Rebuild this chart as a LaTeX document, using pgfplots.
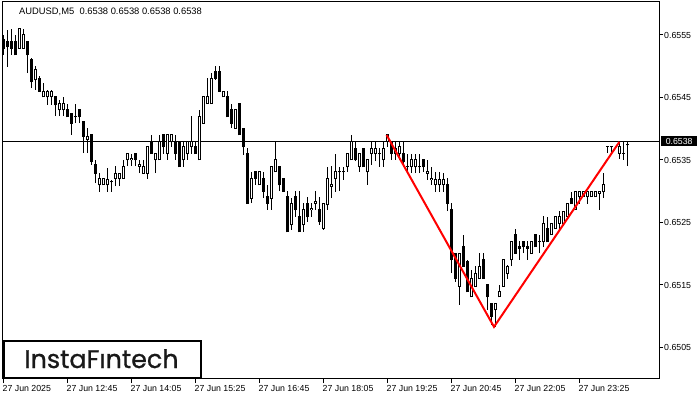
\documentclass[border=0pt]{standalone}
\usepackage{pgfplots}
\usepackage{pgfplotstable}
\pgfplotsset{compat=1.18}
\usepackage{fontspec}
\setmainfont{Liberation Sans}
\newfontfamily\logofont{Poppins}[FakeBold=0.9]

% AUDUSD M5 candles, bullish (hollow) ones
\pgfplotstableread{
i o h l c
4 0.65529 0.65561 0.65529 0.65560
5 0.65529 0.65560 0.65529 0.65550
8 0.65478 0.65500 0.65462 0.65494
10 0.65451 0.65473 0.65451 0.65460
11 0.65451 0.65462 0.65438 0.65460
12 0.65451 0.65462 0.65438 0.65460
14 0.65430 0.65446 0.65420 0.65440
15 0.65430 0.65451 0.65420 0.65440
21 0.65382 0.65401 0.65361 0.65387
24 0.65310 0.65329 0.65299 0.65321
25 0.65310 0.65321 0.65310 0.65321
26 0.65310 0.65337 0.65299 0.65318
27 0.65315 0.65318 0.65299 0.65316
28 0.65320 0.65340 0.65308 0.65329
29 0.65320 0.65329 0.65308 0.65329
30 0.65320 0.65350 0.65320 0.65340
31 0.65350 0.65360 0.65340 0.65360
32 0.65350 0.65360 0.65340 0.65352
34 0.65340 0.65350 0.65329 0.65342
35 0.65329 0.65350 0.65329 0.65340
36 0.65329 0.65371 0.65320 0.65371
38 0.65350 0.65360 0.65329 0.65360
39 0.65350 0.65390 0.65350 0.65379
41 0.65360 0.65390 0.65350 0.65390
42 0.65379 0.65390 0.65371 0.65390
45 0.65350 0.65379 0.65339 0.65371
46 0.65360 0.65379 0.65350 0.65379
47 0.65371 0.65420 0.65360 0.65379
49 0.65350 0.65430 0.65350 0.65420
50 0.65409 0.65451 0.65409 0.65451
51 0.65440 0.65481 0.65440 0.65451
52 0.65440 0.65489 0.65440 0.65481
55 0.65451 0.65460 0.65451 0.65460
58 0.65401 0.65430 0.65401 0.65430
62 0.65289 0.65331 0.65281 0.65320
64 0.65310 0.65331 0.65310 0.65331
67 0.65289 0.65339 0.65270 0.65339
68 0.65331 0.65380 0.65331 0.65350
72 0.65246 0.65289 0.65238 0.65281
75 0.65246 0.65281 0.65235 0.65270
77 0.65270 0.65281 0.65259 0.65272
78 0.65281 0.65300 0.65270 0.65283
80 0.65241 0.65281 0.65238 0.65281
81 0.65278 0.65339 0.65270 0.65321
82 0.65308 0.65340 0.65289 0.65310
83 0.65320 0.65360 0.65299 0.65331
84 0.65331 0.65339 0.65300 0.65332
85 0.65331 0.65339 0.65318 0.65332
86 0.65339 0.65360 0.65331 0.65360
87 0.65350 0.65390 0.65350 0.65380
89 0.65339 0.65360 0.65331 0.65360
91 0.65331 0.65350 0.65310 0.65350
92 0.65360 0.65380 0.65342 0.65369
93 0.65360 0.65380 0.65348 0.65369
94 0.65360 0.65369 0.65339 0.65361
95 0.65350 0.65380 0.65339 0.65369
96 0.65380 0.65390 0.65371 0.65390
98 0.65360 0.65380 0.65350 0.65369
99 0.65360 0.65380 0.65350 0.65371
101 0.65339 0.65360 0.65329 0.65340
102 0.65339 0.65360 0.65329 0.65350
103 0.65339 0.65360 0.65329 0.65350
104 0.65339 0.65360 0.65329 0.65340
106 0.65329 0.65350 0.65318 0.65331
107 0.65318 0.65339 0.65310 0.65320
108 0.65310 0.65331 0.65299 0.65318
109 0.65310 0.65331 0.65299 0.65318
110 0.65310 0.65329 0.65299 0.65318
114 0.65148 0.65201 0.65118 0.65201
117 0.65131 0.65174 0.65131 0.65160
118 0.65148 0.65180 0.65148 0.65169
119 0.65160 0.65201 0.65160 0.65180
123 0.65110 0.65120 0.65083 0.65120
124 0.65131 0.65150 0.65131 0.65139
125 0.65148 0.65190 0.65148 0.65190
126 0.65169 0.65182 0.65160 0.65180
127 0.65190 0.65220 0.65180 0.65219
132 0.65201 0.65220 0.65201 0.65220
134 0.65219 0.65230 0.65201 0.65220
135 0.65219 0.65260 0.65211 0.65249
137 0.65230 0.65249 0.65230 0.65249
138 0.65240 0.65259 0.65240 0.65259
139 0.65249 0.65268 0.65240 0.65259
140 0.65249 0.65268 0.65249 0.65268
141 0.65259 0.65281 0.65259 0.65280
143 0.65270 0.65299 0.65270 0.65299
144 0.65291 0.65299 0.65280 0.65299
145 0.65291 0.65299 0.65291 0.65299
146 0.65291 0.65299 0.65280 0.65299
147 0.65291 0.65299 0.65291 0.65299
148 0.65291 0.65299 0.65291 0.65299
149 0.65297 0.65299 0.65270 0.65299
150 0.65299 0.65329 0.65289 0.65310
151 0.65372 0.65372 0.65361 0.65372
152 0.65371 0.65372 0.65361 0.65371
154 0.65361 0.65379 0.65352 0.65371
155 0.65361 0.65379 0.65350 0.65361
156 0.65374 0.65379 0.65340 0.65374
}\bull

% bearish (filled) candles
\pgfplotstableread{
i o h l c
0 0.65542 0.65550 0.65518 0.65529
1 0.65540 0.65558 0.65499 0.65531
2 0.65540 0.65560 0.65518 0.65529
3 0.65540 0.65550 0.65518 0.65518
6 0.65540 0.65540 0.65489 0.65518
7 0.65510 0.65513 0.65465 0.65475
9 0.65481 0.65484 0.65459 0.65460
13 0.65451 0.65451 0.65420 0.65438
16 0.65430 0.65440 0.65419 0.65419
17 0.65425 0.65425 0.65390 0.65409
18 0.65420 0.65440 0.65409 0.65419
19 0.65430 0.65430 0.65409 0.65419
20 0.65411 0.65411 0.65361 0.65388
22 0.65390 0.65392 0.65342 0.65348
23 0.65342 0.65350 0.65313 0.65329
33 0.65360 0.65360 0.65340 0.65350
37 0.65379 0.65390 0.65360 0.65360
40 0.65390 0.65390 0.65360 0.65371
43 0.65379 0.65390 0.65350 0.65360
44 0.65379 0.65379 0.65339 0.65339
48 0.65371 0.65379 0.65360 0.65360
53 0.65491 0.65500 0.65478 0.65481
54 0.65491 0.65500 0.65460 0.65460
56 0.65451 0.65460 0.65419 0.65419
57 0.65430 0.65440 0.65401 0.65409
59 0.65440 0.65440 0.65390 0.65390
60 0.65401 0.65401 0.65358 0.65371
61 0.65360 0.65369 0.65281 0.65281
63 0.65331 0.65331 0.65310 0.65320
65 0.65320 0.65331 0.65289 0.65300
66 0.65291 0.65310 0.65270 0.65281
69 0.65339 0.65339 0.65300 0.65310
70 0.65320 0.65320 0.65300 0.65300
71 0.65291 0.65300 0.65235 0.65235
73 0.65291 0.65300 0.65259 0.65270
74 0.65260 0.65300 0.65235 0.65235
76 0.65281 0.65291 0.65251 0.65259
79 0.65270 0.65291 0.65246 0.65251
88 0.65369 0.65380 0.65348 0.65350
90 0.65369 0.65369 0.65339 0.65339
97 0.65379 0.65379 0.65350 0.65360
100 0.65360 0.65380 0.65339 0.65348
105 0.65350 0.65350 0.65331 0.65339
111 0.65310 0.65321 0.65268 0.65281
112 0.65270 0.65281 0.65169 0.65190
113 0.65201 0.65201 0.65155 0.65160
115 0.65211 0.65230 0.65179 0.65179
116 0.65187 0.65190 0.65139 0.65139
120 0.65190 0.65201 0.65160 0.65160
121 0.65150 0.65150 0.65110 0.65131
122 0.65120 0.65120 0.65086 0.65100
128 0.65230 0.65240 0.65201 0.65201
129 0.65211 0.65220 0.65190 0.65209
130 0.65220 0.65220 0.65201 0.65211
131 0.65211 0.65220 0.65190 0.65209
133 0.65230 0.65230 0.65211 0.65211
136 0.65240 0.65259 0.65219 0.65219
142 0.65289 0.65299 0.65280 0.65280
}\bear

% candles are drawn as explicit error bars only
\pgfplotsset{
  bars/.style={draw=none, mark=none, forget plot,
    error bars/.cd, y dir=plus, y explicit, error mark=none,
    error bar style={line cap=butt, #1}},
}

\begin{document}
\begin{tikzpicture}
\path[use as bounding box] (0,0) rectangle (700bp,400bp);
\begin{axis}[
  at={(2.5bp,21bp)}, anchor=south west,
  scale only axis, width=656.5bp, height=377bp,
  xmin=-0.125, xmax=164,
  ymin=0.649996, ymax=0.656028,
  axis line style={line width=1bp},
  tick style={black, line width=1bp},
  tick align=outside, major tick length=4bp,
  xtick pos=bottom, ytick pos=right, yticklabel pos=right,
  xtick={0,16,32,48,64,80,96,112,128,144},
  xticklabels={27 Jun 2025, 27 Jun 12:45, 27 Jun 14:05, 27 Jun 15:25, 27 Jun 16:45,
    27 Jun 18:05, 27 Jun 19:25, 27 Jun 20:45, 27 Jun 22:05, 27 Jun 23:25},
  ytick={0.6505,0.6515,0.6525,0.6535,0.6545,0.6555},
  scaled y ticks=false,
  yticklabel style={/pgf/number format/fixed, /pgf/number format/fixed zerofill,
    /pgf/number format/precision=4, /pgf/number format/assume math mode=true},
  every tick label/.append style={font=\fontsize{8.8}{10}\selectfont, inner sep=0pt},
  xticklabel style={anchor=north west, xshift=-0.5bp, yshift=-2bp},
  yticklabel style={anchor=west, xshift=1bp},
]
  % current price level
  \addplot[black, line width=1bp, forget plot] coordinates {(-1,0.6538) (165,0.6538)};

  % wicks
  \addplot[bars={draw=black, line width=1bp}]
    table[x=i, y=l, y error expr=\thisrow{h}-\thisrow{l}] {\bull};
  \addplot[bars={draw=black, line width=1bp}]
    table[x=i, y=l, y error expr=\thisrow{h}-\thisrow{l}] {\bear};

  % bodies
  \addplot[bars={draw=black, line width=3bp}]
    table[x=i, y expr=\thisrow{o}-0.000008, y error expr=\thisrow{c}-\thisrow{o}+0.000016] {\bull};
  \addplot[bars={draw=white, line width=1bp}]
    table[x=i, y expr=\thisrow{o}+0.000008, y error expr={max(\thisrow{c}-\thisrow{o}-0.000016,0)}] {\bull};
  \addplot[bars={draw=black, line width=3bp}]
    table[x=i, y expr=\thisrow{c}-0.000008, y error expr=\thisrow{o}-\thisrow{c}+0.000016] {\bear};

  % double top pattern
  \addplot[red, line width=2bp, forget plot] coordinates {(95.9,0.65390) (122.75,0.65083) (154.1,0.65379)};

  \coordinate (pl) at (axis cs:164,0.6538);
\end{axis}

% price tag
\node[fill=black, text=white, anchor=west, inner sep=0pt, minimum width=36bp, minimum height=10bp,
  font=\fontsize{8.8}{10}\selectfont] at ([xshift=2bp]pl) {0.6538};

% symbol header
\node[anchor=base west, inner sep=0pt, font=\fontsize{9.4}{11}\selectfont] at (19bp,385.7bp)
  {AUDUSD,M5\ \ 0.6538 0.6538 0.6538 0.6538};

% logo box
\draw[line width=2bp, fill=white] (3.7bp,22bp) rectangle (200.7bp,59bp);
\node[anchor=base, inner sep=0pt, text=black!90, font=\logofont\fontsize{25.5}{28}\selectfont]
  at (101.5bp,32bp) {InstaFıntech};
\end{tikzpicture}
\end{document}
